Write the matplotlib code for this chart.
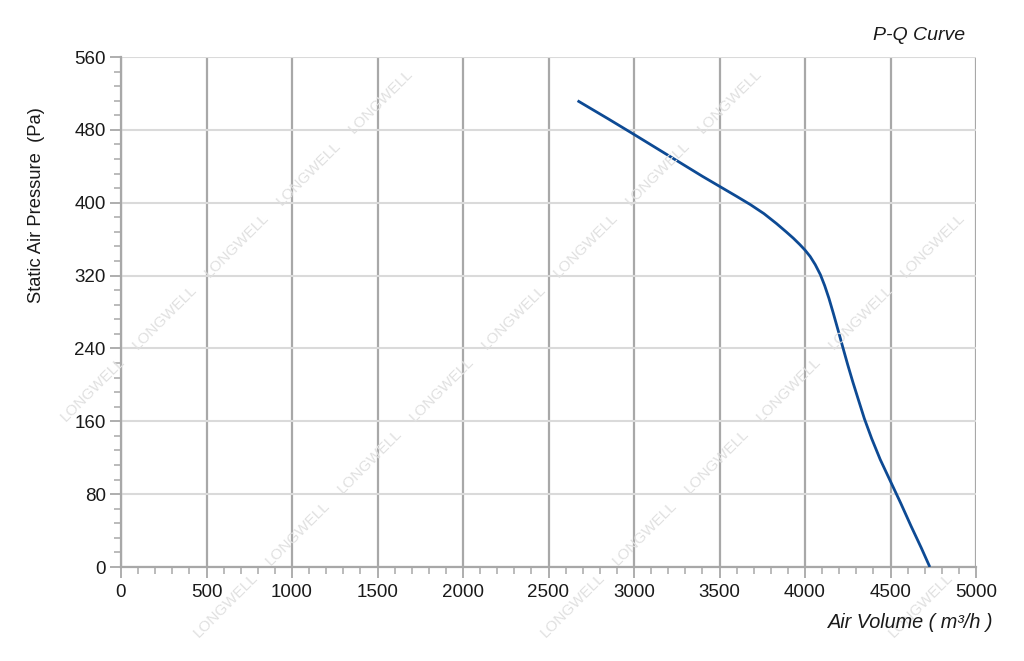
import matplotlib
matplotlib.use("Agg")
import matplotlib.pyplot as plt
from matplotlib.ticker import MultipleLocator

plt.rcParams['font.family'] = ['Liberation Sans', 'DejaVu Sans']

# Data
air_volume = [2670, 2850, 3000, 3200, 3400, 3500, 3600, 3680, 3760, 3834,
              3890, 3932, 3970, 4000, 4030, 4060, 4090, 4115, 4140, 4165,
              4195, 4223, 4250, 4280, 4310, 4347, 4390, 4440, 4500, 4560,
              4620, 4680, 4730]
pressure = [512, 492, 475, 452, 429, 418, 407, 398, 388, 377,
            368, 361, 354, 348, 341, 332, 321, 309, 295, 279,
            259, 240, 222, 203, 185, 163, 141, 118, 94, 70,
            45, 21, 0]

x_ticks = [0, 500, 1000, 1500, 2000, 2500, 3000, 3500, 4000, 4500, 5000]
y_ticks = [0, 80, 160, 240, 320, 400, 480, 560]

title = "P-Q Curve"
xlabel = "Air Volume ( m³/h )"
ylabel = "Static Air Pressure  (Pa)"
watermark = "LONGWELL"

fig = plt.figure(figsize=(10.24, 6.61), dpi=100)
ax = fig.add_axes([121/1024, 1-567/661, (976-121)/1024, (567-57)/661])

# watermark lattice (figure pixel coords), only fully visible copies
wm_centers = []
for c in [134, 482, 831, 1178, 1526]:
    for k in range(-12, 12):
        x = 165 + (c - 482) + 72 * k
        y = c - x
        if 40 < x < 990 and 40 < y < 625:
            wm_centers.append((x, y))
for (x, y) in wm_centers:
    fig.text(x/1024, 1-y/661, watermark, rotation=45, ha='center', va='center',
             fontsize=11, color='#e0e0e0', zorder=0.5)

ax.plot(air_volume, pressure, color='#0d4a94', lw=2.0, zorder=5,
        solid_capstyle='butt', solid_joinstyle='round')

ax.set_xlim(0, 5000)
ax.set_ylim(0, 560)
ax.set_xticks(x_ticks)
ax.set_yticks(y_ticks)
ax.xaxis.set_minor_locator(MultipleLocator(100))
ax.yaxis.set_minor_locator(MultipleLocator(16))

ax.set_axisbelow(True)
ax.grid(axis='y', which='major', color='#dadada', lw=1.5)
ax.grid(axis='x', which='major', color='#a8a8a8', lw=1.6)

for s in ['top', 'right']:
    ax.spines[s].set_visible(False)
for s in ['left', 'bottom']:
    ax.spines[s].set_color('#a8a8a8')
    ax.spines[s].set_linewidth(1.6)

ax.tick_params(axis='both', which='major', length=8, width=1.3, color='#a8a8a8',
               labelsize=13.5, labelcolor='#1a1a1a')
ax.tick_params(axis='both', which='minor', length=5, width=1.1, color='#a8a8a8')
ax.tick_params(axis='x', pad=4)
ax.tick_params(axis='y', pad=3)

fig.text(37/1024, 1-205/661, ylabel, rotation=90, ha='center', va='center',
         fontsize=13.2, color='#1a1a1a')
fig.text(993/1024, 1-623/661, xlabel, ha='right', va='center',
         fontsize=14.3, style='italic', color='#1a1a1a')
fig.text(965/1024, 1-35/661, title, ha='right', va='center',
         fontsize=14, style='italic', color='#1a1a1a')

fig.savefig("out.png", dpi=100, facecolor='white')
